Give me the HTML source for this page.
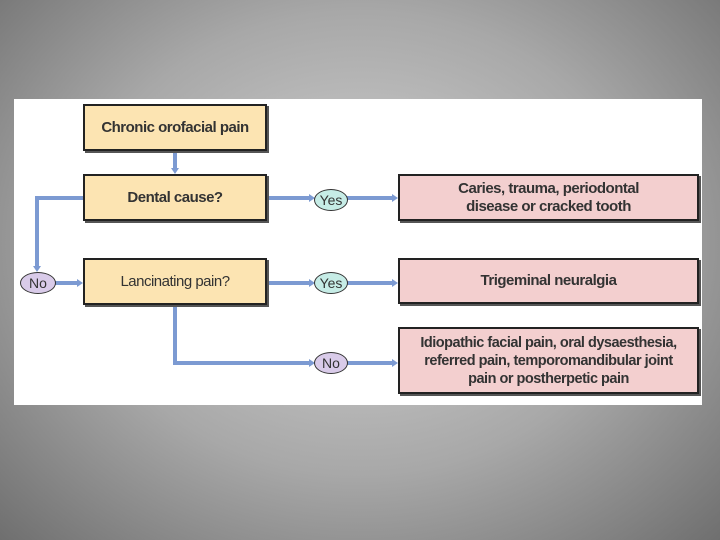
<!DOCTYPE html>
<html><head><style>
html,body{margin:0;padding:0;}
body{width:720px;height:540px;overflow:hidden;background:radial-gradient(ellipse at 50% 45%,#d4d4d4 0%,#a8a8a8 55%,#6f6f6f 100%);position:relative;font-family:"Liberation Sans",sans-serif;}
.panel{position:absolute;left:14px;top:99px;width:688px;height:306px;background:#fff;}
.box{position:absolute;border:2px solid #222;box-shadow:2px 2px 0 #555;display:flex;align-items:center;justify-content:center;text-align:center;font-size:15px;font-weight:bold;color:#333;line-height:18px;box-sizing:border-box;letter-spacing:-0.5px;}
.y{background:#fce4b2;}
.p{background:#f3cfcf;}
.ov{position:absolute;border-radius:50%;border:1.5px solid #333;display:flex;align-items:center;justify-content:center;font-size:14px;color:#333;box-sizing:border-box;}
.yes{background:#c6ece6;}
.no{background:#d9cbe9;}
svg{position:absolute;left:0;top:0;}
</style></head><body>
<div class="panel"></div>
<svg width="720" height="540">
<g stroke="#7c9ad2" stroke-width="4" fill="none">
<line x1="175" y1="150" x2="175" y2="168"/>
<polyline points="83,198 37,198 37,266"/>
<line x1="55" y1="283" x2="77" y2="283"/>
<polyline points="175,304 175,363 309,363"/>
<line x1="267" y1="198" x2="309" y2="198"/>
<line x1="267" y1="283" x2="309" y2="283"/>
<line x1="347" y1="198" x2="392" y2="198"/>
<line x1="347" y1="283" x2="392" y2="283"/>
<line x1="347" y1="363" x2="392" y2="363"/>
</g>
<g fill="#7c9ad2">
<polygon points="171,168 179,168 175,174"/>
<polygon points="33,266 41,266 37,272"/>
<polygon points="77,279 77,287 83,283"/>
<polygon points="309,194 309,202 315,198"/>
<polygon points="309,279 309,287 315,283"/>
<polygon points="309,359 309,367 315,363"/>
<polygon points="392,194 392,202 398,198"/>
<polygon points="392,279 392,287 398,283"/>
<polygon points="392,359 392,367 398,363"/>
</g>
</svg>
<div class="box y" style="left:83px;top:104px;width:184px;height:47px;">Chronic orofacial pain</div>
<div class="box y" style="left:83px;top:174px;width:184px;height:47px;">Dental cause?</div>
<div class="box y" style="left:83px;top:258px;width:184px;height:47px;font-weight:normal;">Lancinating pain?</div>
<div class="box p" style="left:398px;top:174px;width:301px;height:47px;">Caries, trauma, periodontal<br>disease or cracked tooth</div>
<div class="box p" style="left:398px;top:258px;width:301px;height:46px;">Trigeminal neuralgia</div>
<div class="box p" style="left:398px;top:327px;width:301px;height:67px;font-size:14.5px;">Idiopathic facial pain, oral dysaesthesia,<br>referred pain, temporomandibular joint<br>pain or postherpetic pain</div>
<div class="ov no" style="left:20px;top:272px;width:36px;height:22px;">No</div>
<div class="ov yes" style="left:314px;top:189px;width:34px;height:22px;">Yes</div>
<div class="ov yes" style="left:314px;top:272px;width:34px;height:22px;">Yes</div>
<div class="ov no" style="left:314px;top:352px;width:34px;height:22px;">No</div>
</body></html>
